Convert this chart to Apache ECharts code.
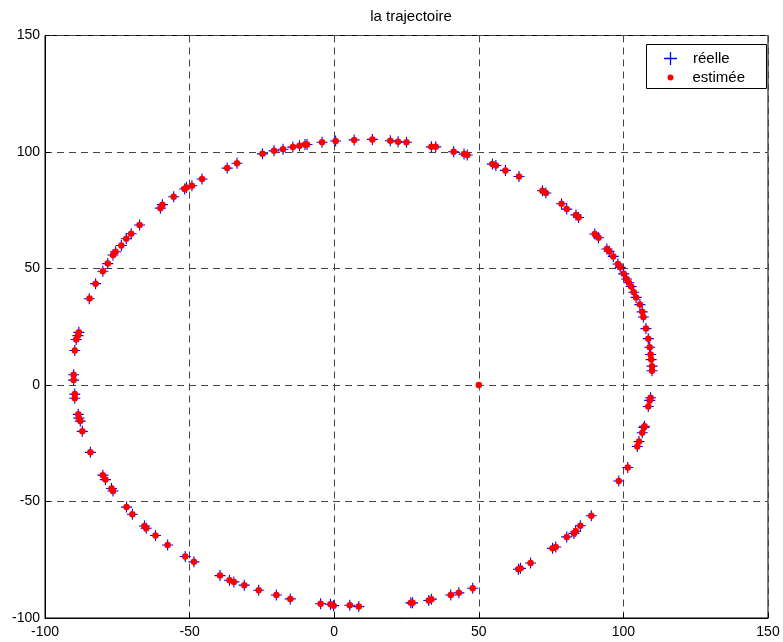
<!DOCTYPE html>
<html>
<head>
<meta charset="utf-8">
<script src="https://cdn.jsdelivr.net/npm/echarts@6/dist/echarts.min.js"></script>
<style>
  html, body { margin: 0; padding: 0; background: #fff; }
  #chart { width: 783px; height: 642px; }
</style>
</head>
<body>
<div id="chart"></div>
<script type="text/javascript">

    // trajectoire réelle (croix bleues)
    var reelleX = [-84.7, -82.5, -80.0, -78.3, -76.5, -75.6, -73.6, -71.9, -70.2, -67.3,
        -60.1, -59.4, -55.5, -51.7, -51.1, -49.2, -45.7, -37.0, -33.6, -24.8,
        -20.8, -17.7, -14.3, -12.0, -10.1, -9.4, -4.2, 0.5, 6.9, 13.2,
        19.4, 22.1, 25.0, 33.6, 35.1, 41.3, 44.9, 46.0, 54.7, 55.9,
        59.2, 63.9, 72.0, 73.2, 78.6, 80.4, 83.6, 84.5, 90.1, 91.4,
        94.3, 95.1, 96.5, 98.1, 98.9, 100.1, 101.1, 101.9, 102.7, 103.6,
        104.4, 105.7, 106.5, 106.9, 107.8, 108.6, 109.1, 109.4, 109.6, 109.9,
        109.9, 109.4, 109.1, 108.6, 107.3, 107.1, 106.5, 105.4, 104.8, 101.5,
        98.4, 88.9, 85.1, 83.5, 82.9, 80.4, 76.6, 75.5, 67.9, 64.4,
        63.7, 47.9, 43.1, 40.3, 33.6, 32.7, 27.1, 26.5, 8.5, 5.4,
        -0.2, -1.3, -4.7, -15.2, -20.0, -26.1, -31.1, -34.7, -36.2, -39.5,
        -48.5, -51.5, -57.6, -61.8, -65.0, -65.6, -69.8, -71.8, -76.5, -77.0,
        -79.1, -80.0, -84.3, -87.1, -87.8, -88.3, -88.5, -89.7, -89.7, -90.1,
        -90.1, -89.7, -89.2, -88.6, -88.3];
    var reelleY = [37.0, 43.5, 48.8, 52.1, 55.8, 57.2, 59.9, 62.8, 64.9, 68.7,
        75.9, 77.4, 80.8, 84.1, 84.8, 85.5, 88.4, 93.1, 95.2, 99.2,
        100.5, 101.2, 102.1, 102.7, 103.2, 103.2, 104.2, 104.7, 105.2, 105.4,
        104.8, 104.4, 104.2, 102.2, 102.2, 100.1, 99.1, 98.7, 94.8, 94.2,
        92.1, 89.5, 83.4, 82.4, 77.8, 75.5, 73.0, 71.9, 64.8, 63.2,
        58.4, 57.4, 55.2, 51.9, 50.5, 47.7, 45.5, 43.9, 42.3, 39.8,
        37.6, 34.5, 31.4, 29.2, 24.2, 19.9, 16.2, 13.1, 10.9, 8.1,
        6.1, -5.5, -6.6, -9.2, -17.7, -18.2, -20.5, -24.3, -26.4, -35.4,
        -41.2, -56.1, -60.4, -62.8, -63.7, -65.2, -69.5, -70.1, -76.4, -78.7,
        -79.1, -87.2, -89.2, -90.1, -91.9, -92.5, -93.5, -93.5, -95.1, -94.5,
        -94.7, -94.1, -93.9, -91.8, -90.1, -88.1, -85.9, -84.5, -83.8, -81.8,
        -75.9, -73.6, -68.7, -64.6, -61.5, -60.5, -55.5, -52.4, -45.5, -44.4,
        -40.6, -38.7, -28.9, -19.9, -15.5, -14.2, -12.6, -5.7, -3.9, 2.1,
        4.4, 14.8, 19.5, 21.2, 22.6];

    // trajectoire estimée (points rouges), le premier point est l'initialisation
    var estimeeX = [50.0, -84.6, -82.5, -80.0, -78.3, -76.5, -75.6, -73.6, -71.9, -70.2, -67.3,
        -60.1, -59.4, -55.5, -51.7, -51.1, -49.2, -45.7, -37.0, -33.6, -24.8,
        -20.8, -17.7, -14.3, -12.0, -10.1, -9.4, -4.2, 0.5, 6.9, 13.2,
        19.4, 22.1, 25.0, 33.6, 35.1, 41.3, 44.9, 46.0, 54.7, 55.9,
        59.2, 63.9, 72.0, 73.2, 78.6, 80.4, 83.6, 84.5, 90.1, 91.4,
        94.3, 95.1, 96.5, 98.1, 98.9, 100.1, 101.1, 101.9, 102.7, 103.6,
        104.4, 105.7, 106.5, 106.9, 107.8, 108.6, 109.1, 109.4, 109.6, 109.9,
        109.9, 109.4, 109.1, 108.6, 107.3, 107.1, 106.5, 105.4, 104.8, 101.5,
        98.4, 88.9, 85.1, 83.5, 82.9, 80.4, 76.6, 75.5, 67.9, 64.4,
        63.7, 47.9, 43.1, 40.3, 33.6, 32.7, 27.1, 26.5, 8.5, 5.4,
        -0.2, -1.3, -4.7, -15.2, -20.0, -26.1, -31.1, -34.7, -36.2, -39.5,
        -48.5, -51.5, -57.6, -61.8, -65.0, -65.6, -69.8, -71.8, -76.5, -77.0,
        -79.1, -80.0, -84.3, -87.1, -87.8, -88.3, -88.5, -89.7, -89.7, -90.1,
        -90.1, -89.7, -89.2, -88.6, -88.3];
    var estimeeY = [0.0, 37.1, 43.5, 48.8, 52.1, 55.8, 57.2, 59.9, 62.8, 64.9, 68.7,
        75.9, 77.4, 80.8, 84.1, 84.8, 85.5, 88.4, 93.1, 95.2, 99.2,
        100.5, 101.2, 102.1, 102.7, 103.2, 103.2, 104.2, 104.7, 105.2, 105.4,
        104.8, 104.4, 104.2, 102.2, 102.2, 100.1, 99.1, 98.7, 94.8, 94.2,
        92.1, 89.5, 83.4, 82.4, 77.8, 75.5, 73.0, 71.9, 64.8, 63.2,
        58.4, 57.4, 55.2, 51.9, 50.5, 47.7, 45.5, 43.9, 42.3, 39.8,
        37.6, 34.5, 31.4, 29.2, 24.2, 19.9, 16.2, 13.1, 10.9, 8.1,
        6.1, -5.5, -6.6, -9.2, -17.7, -18.2, -20.5, -24.3, -26.4, -35.4,
        -41.2, -56.1, -60.4, -62.8, -63.7, -65.2, -69.5, -70.1, -76.4, -78.7,
        -79.1, -87.2, -89.2, -90.1, -91.9, -92.5, -93.5, -93.5, -95.1, -94.5,
        -94.7, -94.1, -93.9, -91.8, -90.1, -88.1, -85.9, -84.5, -83.8, -81.8,
        -75.9, -73.6, -68.7, -64.6, -61.5, -60.5, -55.5, -52.4, -45.5, -44.4,
        -40.6, -38.7, -28.9, -19.9, -15.5, -14.2, -12.6, -5.7, -3.9, 2.1,
        4.4, 14.8, 19.5, 21.2, 22.6];

    var axisMin = -100, axisMax = 150, axisStep = 50;

    function pairs(xs, ys) {
        var out = [];
        for (var i = 0; i < xs.length; i++) out.push([xs[i], ys[i]]);
        return out;
    }

    // croix "+" pleine (dessinée en surface pour rester nette)
    var plusPath = 'path://M4.5,0h1v4.5h4.5v1h-4.5v4.5h-1v-4.5h-4.5v-1h4.5z';
    var font = 'Helvetica, "Liberation Sans", Arial, sans-serif';
    var legendText = { fontSize: 15, color: '#000', fontFamily: font };

    var myChart = echarts.init(document.getElementById('chart'));

    var gridLine = { show: true, lineStyle: { color: '#444', type: [7, 5], width: 1 } };

    var option = {
        animation: false,
        backgroundColor: '#fff',
        title: {
            text: 'la trajectoire',
            left: 406, top: 4, textAlign: 'center',
            textStyle: { fontSize: 15, fontWeight: 'normal', color: '#000', fontFamily: font }
        },
        // cadre de la légende
        graphic: [{
            type: 'rect', z: 100,
            shape: { x: 646.5, y: 44.5, width: 120, height: 44 },
            style: { fill: '#fff', stroke: '#000', lineWidth: 1 }
        }],
        legend: [
            {
                left: 664, top: 51, padding: 0, z: 110,
                itemWidth: 13, itemHeight: 13,
                textStyle: Object.assign({ padding: [0, 0, 0, 11] }, legendText),
                data: [{ name: 'réelle', icon: plusPath, itemStyle: { color: '#0000ff' } }]
            },
            {
                left: 667.5, top: 70, padding: 0, z: 110,
                itemWidth: 6, itemHeight: 6,
                textStyle: Object.assign({ padding: [0, 0, 0, 14] }, legendText),
                data: [{ name: 'estimée', icon: 'circle', itemStyle: { color: '#ff0000' } }]
            }
        ],
        grid: {
            left: 45, right: 15, top: 35.5, bottom: 24,
            show: true, borderColor: '#000', borderWidth: 1
        },
        xAxis: {
            type: 'value', min: axisMin, max: axisMax, interval: axisStep,
            axisLine: { show: true, onZero: false, lineStyle: { color: '#000' } },
            axisTick: { show: true, inside: true, length: 5, lineStyle: { color: '#000' } },
            axisLabel: { color: '#000', fontSize: 14, fontFamily: font, margin: 7 },
            splitLine: gridLine
        },
        yAxis: {
            type: 'value', min: axisMin, max: axisMax, interval: axisStep,
            axisLine: { show: true, onZero: false, lineStyle: { color: '#000' } },
            axisTick: { show: true, inside: true, length: 5, lineStyle: { color: '#000' } },
            axisLabel: { color: '#000', fontSize: 14, fontFamily: font, margin: 5 },
            splitLine: gridLine
        },
        series: [
            {
                name: 'réelle',
                type: 'scatter',
                symbol: plusPath,
                symbolSize: 11,
                itemStyle: { color: '#0000ff', opacity: 1 },
                data: pairs(reelleX, reelleY)
            },
            {
                name: 'estimée',
                type: 'scatter',
                symbol: 'circle',
                symbolSize: 6.5,
                itemStyle: { color: '#ff0000', opacity: 1 },
                data: pairs(estimeeX, estimeeY)
            }
        ]
    };

    myChart.setOption(option);
</script>
</body>
</html>
